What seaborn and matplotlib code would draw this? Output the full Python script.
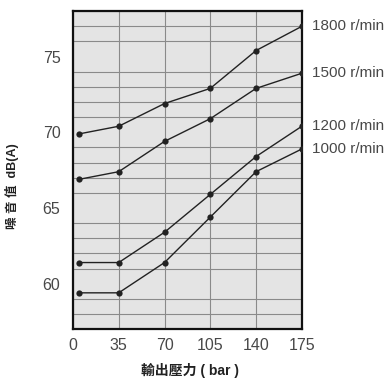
import matplotlib
matplotlib.use("Agg")
import matplotlib.pyplot as plt
import seaborn as sns
import pandas as pd

# output pressure (bar) and noise level dB(A) per speed
pressure = [5, 35, 70, 105, 140, 175]
speeds = ["1800 r/min", "1500 r/min", "1200 r/min", "1000 r/min"]
noise_1800 = [69.9, 70.4, 71.9, 72.9, 75.4, 77.0]
noise_1500 = [66.9, 67.4, 69.4, 70.9, 72.9, 73.9]
noise_1200 = [61.4, 61.4, 63.4, 65.9, 68.4, 70.4]
noise_1000 = [59.4, 59.4, 61.4, 64.4, 67.4, 68.9]
x_ticks = [0, 35, 70, 105, 140, 175]
y_ticks = [60, 65, 70, 75]

series = [noise_1800, noise_1500, noise_1200, noise_1000]
rows = []
for name, vals in zip(speeds, series):
    for p, v in zip(pressure, vals):
        rows.append({"pressure": p, "noise": v, "speed": name})
df = pd.DataFrame(rows)

sns.set_style("white")
plt.rcParams["font.family"] = ["Liberation Sans", "Noto Sans CJK TC", "DejaVu Sans"]

fig = plt.figure(figsize=(3.9, 3.85), dpi=100)
ax = fig.add_axes([0.187, 0.145, 0.587, 0.826])
ax.set_facecolor("#e4e4e4")

sns.lineplot(data=df, x="pressure", y="noise", hue="speed",
             palette=["#222222"] * 4, marker="o", markersize=4.5,
             markeredgewidth=0, linewidth=1.0, legend=False, ax=ax,
             zorder=3)

ax.set_xlim(0, 175)
ax.set_ylim(57, 78)
ax.set_xticks(x_ticks)
ax.set_yticks(y_ticks)
ax.set_yticks(range(57, 79), minor=True)
ax.grid(True, which="major", axis="x", color="#8a8a8a", linewidth=0.8)
ax.grid(True, which="minor", axis="y", color="#8a8a8a", linewidth=0.8)
ax.tick_params(which="both", length=0, labelsize=11.5, colors="#484848")
ax.tick_params(axis="x", pad=6)
ax.tick_params(axis="y", pad=9)

for s in ax.spines.values():
    s.set_color("#111111")
    s.set_linewidth(1.6)

# labels at the right end of each line
for name, vals in zip(speeds, series):
    ax.annotate(name, xy=(pressure[-1], vals[-1]), xytext=(7, 0),
                textcoords="offset points", va="center", ha="left",
                fontsize=11, color="#484848", annotation_clip=False)

ax.set_xlabel("輸出壓力 ( bar )", fontsize=10, fontweight="bold",
              color="#222222")
ax.xaxis.set_label_coords(0.51, -0.105)
ax.set_ylabel("噪 音 值  dB(A)", fontsize=9, fontweight="bold",
              color="#222222")
ax.yaxis.set_label_coords(-0.235, 0.45)

fig.savefig("out.png", dpi=100)
